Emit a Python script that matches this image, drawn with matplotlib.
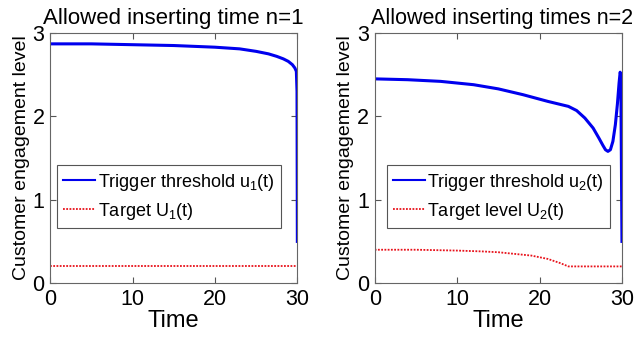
import matplotlib
matplotlib.use("Agg")
import matplotlib.pyplot as plt

plt.rcParams['font.family'] = ['Liberation Sans', 'DejaVu Sans']
plt.rcParams['mathtext.default'] = 'regular'

# n=1 : seuil de déclenchement et cible
t1 = [0, 5, 10, 15, 20, 23, 25, 26.5, 27.5, 28.3, 28.9, 29.4, 29.7, 29.88, 29.96, 30]
u1 = [2.87, 2.87, 2.86, 2.85, 2.83, 2.81, 2.78, 2.75, 2.72, 2.69, 2.66, 2.62, 2.58, 2.54, 2.3, 0.5]
T1 = [0, 30]
U1 = [0.2, 0.2]

# n=2
t2 = [0, 4, 8, 12, 15, 18, 21, 23.5, 24.5, 25.5, 26.5, 27.2, 27.7, 28.0, 28.3,
      28.6, 28.9, 29.2, 29.45, 29.65, 29.78, 29.86, 29.93, 30]
u2 = [2.45, 2.44, 2.42, 2.38, 2.33, 2.26, 2.18, 2.12, 2.07, 1.98, 1.86, 1.74, 1.65, 1.60, 1.58,
      1.60, 1.70, 1.90, 2.15, 2.40, 2.53, 2.50, 1.5, 0.5]
T2 = [0, 5, 10, 13, 15, 17, 19, 21, 22.5, 23.5, 30]
U2 = [0.40, 0.40, 0.39, 0.38, 0.37, 0.35, 0.33, 0.29, 0.24, 0.20, 0.20]

fig = plt.figure(figsize=(6.34, 3.37), dpi=100)
ax1 = fig.add_axes([0.079, 0.160, 0.39, 0.742])
ax2 = fig.add_axes([0.591, 0.160, 0.39, 0.742])

panels = [
    (ax1, t1, u1, T1, U1, "Allowed inserting time n=1",
     "Trigger threshold u$_1$(t)", "Target U$_1$(t)", 0.028),
    (ax2, t2, u2, T2, U2, "Allowed inserting times n=2",
     "Trigger threshold u$_2$(t)", "Target level U$_2$(t)", 0.049),
]

for ax, t, u, T, U, title, lab_u, lab_U, leg_x in panels:
    ax.plot(t, u, color="#0000ee", lw=2.2, label=lab_u)
    ax.plot(T, U, color="#e8121b", lw=1.3, ls=(0, (1, 0.8)), label=lab_U)
    ax.set_xlim(0, 30)
    ax.set_ylim(0, 3)
    ax.set_xticks([0, 10, 20, 30])
    ax.set_yticks([0, 1, 2, 3])
    ax.tick_params(direction="in", labelsize=15.5, length=4, color="#555555",
                   top=True, right=True, pad=4)
    for s in ax.spines.values():
        s.set_color("#666666")
        s.set_linewidth(0.8)
    ax.set_xlabel("Time", fontsize=17, labelpad=0)
    ax.set_ylabel("Customer engagement level", fontsize=14, labelpad=2)
    leg = ax.legend(loc="lower left", bbox_to_anchor=(leg_x, 0.22), fontsize=13,
                    fancybox=False, framealpha=1, edgecolor="#555555",
                    handlelength=1.75, handletextpad=0.15, borderpad=0.35,
                    labelspacing=0.45, borderaxespad=0)
    leg.get_frame().set_linewidth(0.8)
    leg.get_lines()[0].set_linewidth(1.5)

ax1.set_title(panels[0][5], fontsize=16, pad=6.5)
# le titre de droite déborde jusqu'au bord de la figure
ax2.set_title(panels[1][5], fontsize=15.5, pad=6.5, x=1.046, ha="right")

fig.savefig("out.png", dpi=100)
